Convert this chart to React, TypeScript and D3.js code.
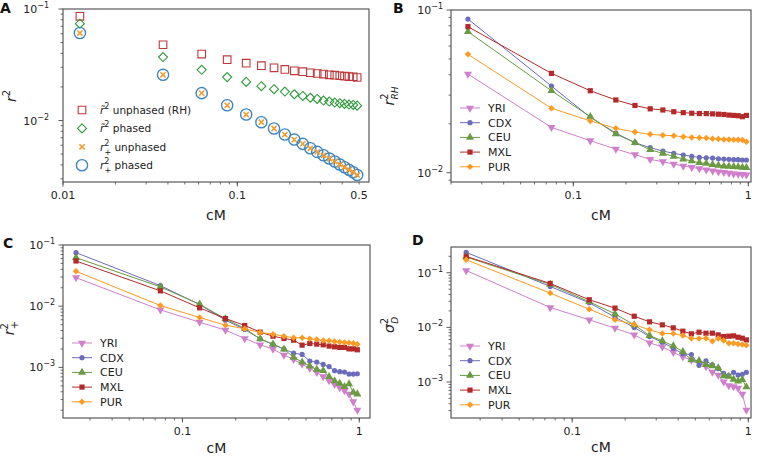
import * as d3 from "d3";

// x positions (cM bin centres)
const cmA = [0.0125, 0.0375, 0.0625, 0.0875, 0.1125, 0.1375, 0.1625, 0.1875, 0.2125, 0.2375, 0.2625, 0.2875, 0.3125, 0.3375, 0.3625, 0.3875, 0.4125, 0.4375, 0.4625, 0.4875];
const cmPop = [0.025, 0.075, 0.125, 0.175, 0.225, 0.275, 0.325, 0.375, 0.425, 0.475, 0.525, 0.575, 0.625, 0.675, 0.725, 0.775, 0.825, 0.875, 0.925, 0.975];

// panel A
const rTildeUnphased = [0.0859, 0.0478, 0.0394, 0.0351, 0.0327, 0.031, 0.0297, 0.0287, 0.0279, 0.0274, 0.0268, 0.0264, 0.0261, 0.0257, 0.0255, 0.0252, 0.025, 0.0248, 0.0247, 0.0243];
const rTildePhased = [0.0738, 0.0371, 0.0285, 0.0245, 0.0222, 0.0203, 0.0191, 0.0182, 0.0172, 0.0166, 0.016, 0.0156, 0.0151, 0.0148, 0.0145, 0.0143, 0.0141, 0.0139, 0.0138, 0.0136];
const rPlusUnphased = [0.0609, 0.0257, 0.0176, 0.0137, 0.01132, 0.00966, 0.00848, 0.00749, 0.00675, 0.00617, 0.00564, 0.00523, 0.00488, 0.00456, 0.00429, 0.00403, 0.00381, 0.00361, 0.00344, 0.00325];
const rPlusPhased = [0.0609, 0.0257, 0.0176, 0.0137, 0.01132, 0.00966, 0.00848, 0.00749, 0.00675, 0.00617, 0.00564, 0.00523, 0.00488, 0.00456, 0.00429, 0.00403, 0.00381, 0.00361, 0.00344, 0.00325];

// panel B: r^2_RH
const rhYRI = [0.0404, 0.019, 0.01573, 0.01397, 0.01291, 0.01208, 0.01169, 0.0113, 0.01099, 0.01079, 0.01059, 0.01043, 0.01028, 0.01014, 0.01005, 0.00995, 0.00986, 0.00981, 0.00977, 0.00972];
const rhCDX = [0.088, 0.0341, 0.0219, 0.0175, 0.01529, 0.01425, 0.01359, 0.01315, 0.01285, 0.0126, 0.01242, 0.01236, 0.0123, 0.01219, 0.01213, 0.01208, 0.01202, 0.01202, 0.01197, 0.01197];
const rhCEU = [0.0736, 0.0319, 0.0221, 0.01729, 0.01529, 0.01385, 0.01315, 0.0126, 0.01213, 0.0118, 0.01152, 0.01141, 0.0112, 0.0111, 0.01099, 0.01094, 0.01089, 0.01084, 0.01079, 0.01074];
const rhMXL = [0.079, 0.0408, 0.0319, 0.028, 0.0259, 0.0247, 0.0243, 0.0237, 0.0234, 0.0232, 0.0231, 0.0231, 0.023, 0.0229, 0.0228, 0.0226, 0.0225, 0.0224, 0.0221, 0.0225];
const rhPUR = [0.0534, 0.0249, 0.0208, 0.01874, 0.01778, 0.01721, 0.01697, 0.01688, 0.01665, 0.01649, 0.01641, 0.01634, 0.01618, 0.01611, 0.01603, 0.01603, 0.01596, 0.01596, 0.01588, 0.01552];

// panel C: r^2_+
const rpYRI = [0.0293, 0.00871, 0.00548, 0.00406, 0.00297, 0.00234, 0.00199, 0.00159, 0.00135, 0.00113, 0.000963, 0.000828, 0.000705, 0.000607, 0.000528, 0.000466, 0.000417, 0.000367, 0.000275, 0.000201];
const rpCDX = [0.075, 0.0217, 0.01064, 0.00591, 0.00417, 0.00293, 0.00237, 0.00199, 0.00171, 0.00163, 0.00127, 0.00122, 0.00112, 0.00103, 0.000883, 0.00085, 0.000839, 0.000778, 0.000778, 0.000788];
const rpCEU = [0.0621, 0.0207, 0.01078, 0.00621, 0.00432, 0.00293, 0.0024, 0.00199, 0.00146, 0.00122, 0.00105, 0.000927, 0.000883, 0.000705, 0.000599, 0.000548, 0.000484, 0.000535, 0.000391, 0.000367];
const rpMXL = [0.0548, 0.0178, 0.0094, 0.0063, 0.00484, 0.00377, 0.00324, 0.00297, 0.00279, 0.00231, 0.00246, 0.0024, 0.00234, 0.00223, 0.00217, 0.00212, 0.00212, 0.00201, 0.00201, 0.00194];
const rpPUR = [0.0372, 0.01025, 0.00654, 0.0049, 0.00427, 0.00372, 0.00349, 0.00324, 0.00305, 0.00305, 0.00293, 0.00286, 0.00275, 0.00272, 0.00265, 0.00259, 0.00256, 0.00253, 0.00249, 0.0024];

// panel D: sigma^2_D
const sdYRI = [0.11, 0.0231, 0.01374, 0.00966, 0.00728, 0.0052, 0.00439, 0.0035, 0.00288, 0.00253, 0.0022, 0.00191, 0.00152, 0.00134, 0.00101, 0.000857, 0.000821, 0.000776, 0.000603, 0.000306];
const sdCDX = [0.236, 0.0561, 0.0282, 0.01538, 0.00993, 0.00679, 0.00535, 0.00415, 0.00327, 0.00318, 0.00202, 0.00243, 0.00205, 0.00176, 0.00144, 0.00131, 0.0015, 0.00134, 0.00138, 0.0015];
const sdCEU = [0.194, 0.0611, 0.0294, 0.0177, 0.01111, 0.00708, 0.00565, 0.00458, 0.0036, 0.00253, 0.00246, 0.00208, 0.00197, 0.00181, 0.00129, 0.00127, 0.00112, 0.00103, 0.0011, 0.00081];
const sdMXL = [0.1995, 0.0637, 0.032, 0.0225, 0.016, 0.01262, 0.01111, 0.00979, 0.00851, 0.0076, 0.00815, 0.00782, 0.00782, 0.00728, 0.00679, 0.00689, 0.00698, 0.0066, 0.00633, 0.0059];
const sdPUR = [0.173, 0.0424, 0.0215, 0.01374, 0.01127, 0.009, 0.00771, 0.00771, 0.00708, 0.00624, 0.00624, 0.00633, 0.00557, 0.00624, 0.00573, 0.00512, 0.00512, 0.00498, 0.00484, 0.00471];

const populations = ["YRI", "CDX", "CEU", "MXL", "PUR"];
const popColors = ["#cf7fcb", "#6c6cbd", "#6a9a42", "#b42a2a", "#ff9a22"];
const popShapes = ["triDown", "circle", "triUp", "square", "diamond"];

const FONT = "DejaVu Sans, sans-serif";
const AXIS = "#4a4a4a";

type Shape = "triDown" | "triUp" | "circle" | "square" | "diamond" | "cross";

function markerPath(shape: Shape, s: number): string {
  switch (shape) {
    case "circle":
      return d3.symbol(d3.symbolCircle, Math.PI * s * s)();
    case "square":
      return d3.symbol(d3.symbolSquare, 4 * s * s)();
    case "triUp":
    case "triDown":
      return d3.symbol(d3.symbolTriangle, 4.2 * s * s)();
    case "diamond":
      return `M0,${-s * 1.25}L${s * 1.25},0L0,${s * 1.25}L${-s * 1.25},0Z`;
    case "cross":
      return `M${-s},${-s}L${s},${s}M${-s},${s}L${s},${-s}`;
  }
  return "";
}

function Marker({ shape, x, y, s, fill, stroke, sw }: { shape: Shape; x: number; y: number; s: number; fill: string; stroke: string; sw: number }) {
  const rot = shape === "triDown" ? " rotate(180)" : "";
  return <path d={markerPath(shape, s)} transform={`translate(${x},${y})${rot}`} fill={fill} stroke={stroke} strokeWidth={sw} />;
}

type Frame = { left: number; right: number; top: number; bottom: number; xDomain: [number, number]; yDomain: [number, number] };

function Axes({ f, xLabels, yGap }: { f: Frame; xLabels: number[]; yGap: number }) {
  const x = d3.scaleLog().domain(f.xDomain).range([f.left, f.right]);
  const y = d3.scaleLog().domain(f.yDomain).range([f.bottom, f.top]);
  const xMinor: number[] = [];
  const yMajor: number[] = [];
  const yMinor: number[] = [];
  for (let e = -3; e <= 0; e++) {
    for (let k = 1; k <= 9; k++) {
      const v = k * Math.pow(10, e);
      if (v >= f.xDomain[0] * 0.999 && v <= f.xDomain[1] * 1.001) xMinor.push(v);
    }
  }
  for (let e = -4; e <= 0; e++) {
    for (let k = 1; k <= 9; k++) {
      const v = k * Math.pow(10, e);
      if (v >= f.yDomain[0] * 0.999 && v <= f.yDomain[1] * 1.001) (k === 1 ? yMajor : yMinor).push(v);
    }
  }
  const xMajor = xMinor.filter((v) => Math.abs(Math.log10(v) - Math.round(Math.log10(v))) < 1e-6);
  const fmt = (v: number) => (v >= 1 ? String(Math.round(v)) : String(+v.toPrecision(2)));
  return (
    <g>
      {xMinor.map((v, i) => (
        <line key={"xm" + i} x1={x(v)} x2={x(v)} y1={f.bottom} y2={f.bottom + 2.5} stroke={AXIS} strokeWidth={0.8} />
      ))}
      {xMajor.map((v, i) => (
        <line key={"xM" + i} x1={x(v)} x2={x(v)} y1={f.bottom} y2={f.bottom + 4.5} stroke={AXIS} strokeWidth={0.9} />
      ))}
      {xLabels.map((v, i) => (
        <text key={"xl" + i} x={x(v)} y={f.bottom + 17} textAnchor="middle" fontSize={11} fill="#222">
          {fmt(v)}
        </text>
      ))}
      {yMinor.map((v, i) => (
        <line key={"ym" + i} x1={f.left} x2={f.left - 2.5} y1={y(v)} y2={y(v)} stroke={AXIS} strokeWidth={0.8} />
      ))}
      {yMajor.map((v, i) => (
        <line key={"yM" + i} x1={f.left} x2={f.left - 4.5} y1={y(v)} y2={y(v)} stroke={AXIS} strokeWidth={0.9} />
      ))}
      {yMajor.map((v, i) => (
        <text key={"yl" + i} x={f.left - yGap} y={y(v) + 4} textAnchor="end" fontSize={11} fill="#222">
          10
          <tspan dy={-5} fontSize={8}>
            {"\u2212" + Math.round(-Math.log10(v))}
          </tspan>
        </text>
      ))}
      <rect x={f.left} y={f.top} width={f.right - f.left} height={f.bottom - f.top} fill="none" stroke={AXIS} strokeWidth={1.1} />
    </g>
  );
}

function PopPanel({ f, data, label, yLabel, legendX, legendY, xLabelY }: { f: Frame; data: number[][]; label: [string, number, number]; yLabel: [JSX.Element, number, number]; legendX: number; legendY: number; xLabelY: number }) {
  const x = d3.scaleLog().domain(f.xDomain).range([f.left, f.right]);
  const y = d3.scaleLog().domain(f.yDomain).range([f.bottom, f.top]);
  const ln = d3
    .line<number>()
    .x((_, i) => x(cmPop[i]))
    .y((d) => y(d));
  return (
    <g>
      <Axes f={f} xLabels={[0.1, 1]} yGap={8} />
      {data.map((s, k) => (
        <g key={k}>
          <path d={ln(s) ?? ""} fill="none" stroke={popColors[k]} strokeWidth={1} />
          {s.map((v, i) => (
            <Marker key={i} shape={popShapes[k] as Shape} x={x(cmPop[i])} y={y(v)} s={2.6} fill={popColors[k]} stroke="none" sw={0} />
          ))}
        </g>
      ))}
      {populations.map((p, k) => (
        <g key={p} transform={`translate(${legendX},${legendY + k * 14.7})`}>
          <line x1={0} x2={20} y1={0} y2={0} stroke={popColors[k]} strokeWidth={1} />
          <Marker shape={popShapes[k] as Shape} x={10} y={0} s={2.6} fill={popColors[k]} stroke="none" sw={0} />
          <text x={28} y={4} fontSize={11} fill="#222">
            {p}
          </text>
        </g>
      ))}
      <text x={label[1]} y={label[2]} fontSize={14} fontWeight="bold" fill="#111">
        {label[0]}
      </text>
      <text transform={`translate(${yLabel[1]},${yLabel[2]}) rotate(-90)`} textAnchor="middle" fontSize={14} fill="#222">
        {yLabel[0]}
      </text>
      <text x={(f.left + f.right) / 2} y={xLabelY} textAnchor="middle" fontSize={14} fill="#222">
        cM
      </text>
    </g>
  );
}

export default function App() {
  const fA: Frame = { left: 63, right: 369, top: 9, bottom: 182, xDomain: [0.01, 0.57], yDomain: [0.00281, 0.1] };
  const fB: Frame = { left: 451, right: 751, top: 10, bottom: 182, xDomain: [0.02, 1.036], yDomain: [0.00877, 0.1] };
  const fC: Frame = { left: 63, right: 370, top: 245, bottom: 418, xDomain: [0.0211, 1.15], yDomain: [0.000149, 0.1] };
  const fD: Frame = { left: 451, right: 751, top: 247, bottom: 418, xDomain: [0.0205, 1.036], yDomain: [0.000219, 0.296] };

  const xA = d3.scaleLog().domain(fA.xDomain).range([fA.left, fA.right]);
  const yA = d3.scaleLog().domain(fA.yDomain).range([fA.bottom, fA.top]);

  const aSeries: { vals: number[]; shape: Shape; s: number; color: string; sw: number; label: JSX.Element }[] = [
    { vals: rTildeUnphased, shape: "square", s: 3.8, color: "#c0383a", sw: 1.1, label: <><tspan fontStyle="italic">r̃</tspan><tspan dy={-5} fontSize={8}>2</tspan><tspan dy={5}> unphased (RH)</tspan></> },
    { vals: rTildePhased, shape: "diamond", s: 3.6, color: "#2f9a3c", sw: 1.1, label: <><tspan fontStyle="italic">r̃</tspan><tspan dy={-5} fontSize={8}>2</tspan><tspan dy={5}> phased</tspan></> },
    { vals: rPlusUnphased, shape: "cross", s: 2.6, color: "#f39a2c", sw: 1.5, label: <><tspan fontStyle="italic">r</tspan><tspan dy={-5} fontSize={8}>2</tspan><tspan dx={-5} dy={9} fontSize={8}>+</tspan><tspan dy={-4}> unphased</tspan></> },
    { vals: rPlusPhased, shape: "circle", s: 5.6, color: "#3d86c0", sw: 1.4, label: <><tspan fontStyle="italic">r</tspan><tspan dy={-5} fontSize={8}>2</tspan><tspan dx={-5} dy={9} fontSize={8}>+</tspan><tspan dy={-4}> phased</tspan></> },
  ];
  const drawOrder = [0, 1, 3, 2];
  const legendRows = [0, 1, 2, 3];

  return (
    <svg width={761} height={457} style={{ position: "absolute", left: 0, top: 0, background: "#fff" }} fontFamily={FONT}>
      <rect width={761} height={457} fill="#fff" />
      {/* panel A */}
      <Axes f={fA} xLabels={[0.01, 0.1, 0.5]} yGap={14} />
      {drawOrder.map((k) => (
        <g key={k}>
          {aSeries[k].vals.map((v, i) => (
            <Marker key={i} shape={aSeries[k].shape} x={xA(cmA[i])} y={yA(v)} s={aSeries[k].s} fill="none" stroke={aSeries[k].color} sw={aSeries[k].sw} />
          ))}
        </g>
      ))}
      {legendRows.map((k) => (
        <g key={"lg" + k} transform={`translate(82,${110 + k * 18.4})`}>
          <Marker shape={aSeries[k].shape} x={0} y={0} s={aSeries[k].s} fill="none" stroke={aSeries[k].color} sw={aSeries[k].sw} />
          <text x={18} y={4} fontSize={10.5} fill="#222">
            {aSeries[k].label}
          </text>
        </g>
      ))}
      <text x={0} y={13} fontSize={14} fontWeight="bold" fill="#111">A</text>
      <text transform="translate(16,96) rotate(-90)" textAnchor="middle" fontSize={14} fill="#222">
        <tspan fontStyle="italic">r</tspan>
        <tspan dy={-6} fontSize={10}>2</tspan>
      </text>
      <text x={(fA.left + fA.right) / 2} y={220} textAnchor="middle" fontSize={14} fill="#222">cM</text>

      <PopPanel
        f={fB}
        data={[rhYRI, rhCDX, rhCEU, rhMXL, rhPUR]}
        label={["B", 393, 13]}
        yLabel={[<><tspan fontStyle="italic">r</tspan><tspan dy={-6} fontSize={10}>2</tspan><tspan dx={-6} dy={10} fontSize={9} fontStyle="italic">RH</tspan></>, 394, 96]}
        legendX={460}
        legendY={108}
        xLabelY={220}
      />
      <PopPanel
        f={fC}
        data={[rpYRI, rpCDX, rpCEU, rpMXL, rpPUR]}
        label={["C", 3, 248]}
        yLabel={[<><tspan fontStyle="italic">r</tspan><tspan dy={-6} fontSize={10}>2</tspan><tspan dx={-6} dy={10} fontSize={10}>+</tspan></>, 14, 328]}
        legendX={72}
        legendY={343}
        xLabelY={453}
      />
      <PopPanel
        f={fD}
        data={[sdYRI, sdCDX, sdCEU, sdMXL, sdPUR]}
        label={["D", 412, 245]}
        yLabel={[<><tspan fontStyle="italic">σ</tspan><tspan dy={-6} fontSize={10}>2</tspan><tspan dx={-6} dy={10} fontSize={9} fontStyle="italic">D</tspan></>, 394, 325]}
        legendX={460}
        legendY={346}
        xLabelY={452}
      />
    </svg>
  );
}
